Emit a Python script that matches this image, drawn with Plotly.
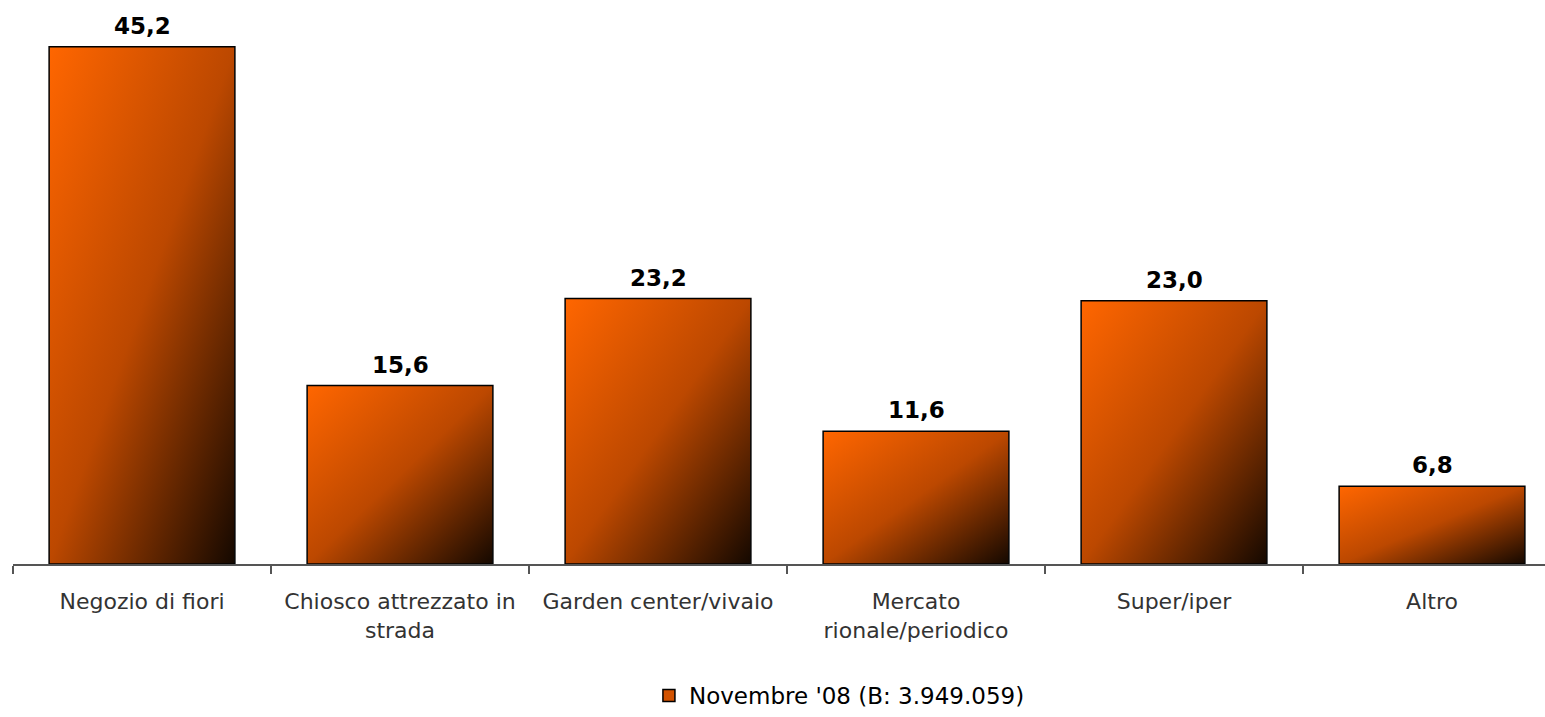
import base64
import plotly.graph_objects as go

# data
categories = [
    "Negozio di fiori",
    "Chiosco attrezzato in<br>strada",
    "Garden center/vivaio",
    "Mercato<br>rionale/periodico",
    "Super/iper",
    "Altro",
]
values = [45.2, 15.6, 23.2, 11.6, 23.0, 6.8]
series_name = "Novembre '08 (B: 3.949.059)"

BAR_W = 0.72
FONT = "DejaVu Sans"

# diagonal orange -> dark brown gradient used as bar fill
svg = (
    '<svg xmlns="http://www.w3.org/2000/svg" width="100" height="100" '
    'viewBox="0 0 100 100" preserveAspectRatio="none">'
    '<defs><linearGradient id="g" x1="0" y1="0" x2="1" y2="1">'
    '<stop offset="0" stop-color="#FF6600"/>'
    '<stop offset="0.5" stop-color="#BC4800"/>'
    '<stop offset="1" stop-color="#140800"/>'
    '</linearGradient></defs>'
    '<rect width="100" height="100" fill="url(#g)"/></svg>'
)
gradient_src = "data:image/svg+xml;base64," + base64.b64encode(svg.encode()).decode()

fig = go.Figure()

fig.add_trace(go.Bar(
    x=categories,
    y=values,
    width=BAR_W,
    marker=dict(color="rgba(0,0,0,0)", line=dict(color="#000000", width=1.5)),
    showlegend=False,
    hovertemplate="%{y}<extra></extra>",
))

# legend entry only
fig.add_trace(go.Bar(
    x=[categories[0]],
    y=[None],
    name=series_name,
    marker=dict(color="#D25200", line=dict(color="#000000", width=1.5)),
))

images = []
for i, v in enumerate(values):
    images.append(dict(
        source=gradient_src,
        xref="x", yref="y",
        x=i - BAR_W / 2, y=v,
        sizex=BAR_W, sizey=v,
        xanchor="left", yanchor="top",
        sizing="stretch",
        layer="below",
    ))

annotations = []
for c, v in zip(categories, values):
    annotations.append(dict(
        x=c, y=v,
        text="<b>" + f"{v:.1f}".replace(".", ",") + "</b>",
        showarrow=False,
        yanchor="bottom",
        yshift=6,
        font=dict(family=FONT, size=23, color="#000000"),
    ))

fig.update_layout(
    width=1545,
    height=717,
    margin=dict(l=13, r=0, t=10, b=147),
    paper_bgcolor="white",
    plot_bgcolor="rgba(0,0,0,0)",
    font=dict(family=FONT, size=22, color="#333333"),
    images=images,
    annotations=annotations,
    barmode="overlay",
    xaxis=dict(
        range=[-0.5, 5.438],
        showline=True,
        linecolor="#555555",
        linewidth=1.5,
        ticks="outside",
        tickson="boundaries",
        ticklen=8,
        tickcolor="#555555",
        tickwidth=1.5,
        ticklabelstandoff=17,
        tickfont=dict(family=FONT, size=22, color="#333333"),
        showgrid=False,
        fixedrange=True,
    ),
    yaxis=dict(
        range=[0, 48.42],
        visible=False,
        showgrid=False,
        fixedrange=True,
    ),
    legend=dict(
        orientation="h",
        x=0.4151, xanchor="left",
        y=-0.2375, yanchor="middle",
        font=dict(family=FONT, size=23, color="#000000"),
    ),
)

# drop the default page margin so the figure fills the window exactly
fig.write_html(
    "out.html",
    config={"displayModeBar": False},
    post_script="document.body.style.margin='0px';",
)
